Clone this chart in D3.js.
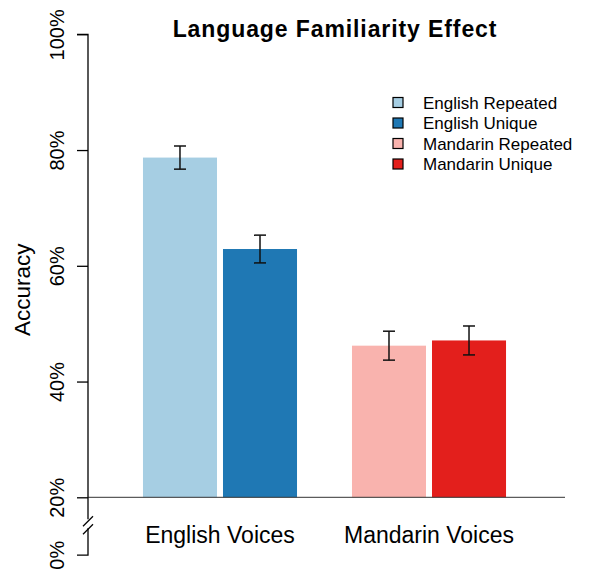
<!DOCTYPE html>
<html>
<head>
<meta charset="utf-8">
<script src="https://cdn.jsdelivr.net/npm/d3@7"></script>
<style>
  html, body { margin: 0; padding: 0; background: #fff; }
  svg { display: block; font-family: "Liberation Sans", Arial, Helvetica, sans-serif; }
</style>
</head>
<body>
<svg id="chart" width="589" height="569"></svg>
<script>
// Voice groups and conditions
const groups = ["English Voices", "Mandarin Voices"];
const conditions = ["Repeated", "Unique"];
const seriesLabels = ["English Repeated", "English Unique", "Mandarin Repeated", "Mandarin Unique"];
const seriesColors = ["#a6cee3", "#1f78b4", "#f9b3ae", "#e31f1c"];
// Mean accuracy (%) and standard error per series
const accuracy = [78.7, 62.9, 46.2, 47.1];
const stdErr = [2.0, 2.4, 2.5, 2.5];
const yTicks = [20, 40, 60, 80, 100];

const svg = d3.select("#chart");
const plotLeft = 88, plotRight = 565, plotTop = 34.3, plotBase = 497.3;

const y = d3.scaleLinear().domain([20, 100]).range([plotBase, plotTop]);
const x0 = d3.scaleBand().domain(groups).range([plotLeft, 561]).paddingInner(0.263).paddingOuter(0.263);
const x1 = d3.scaleBand().domain(conditions).range([0, x0.bandwidth()]).paddingInner(0.075);

const rows = accuracy.map((v, i) => ({
  group: groups[Math.floor(i / 2)],
  cond: conditions[i % 2],
  value: v,
  se: stdErr[i],
  color: seriesColors[i]
}));

// Bars
svg.append("g").selectAll("rect").data(rows).join("rect")
  .attr("x", d => x0(d.group) + x1(d.cond))
  .attr("width", x1.bandwidth())
  .attr("y", d => y(d.value))
  .attr("height", d => y(20) - y(d.value))
  .attr("fill", d => d.color);

// Error bars
const eb = svg.append("g").attr("stroke", "#111").attr("stroke-width", 1.5).attr("fill", "none");
rows.forEach(d => {
  const cx = x0(d.group) + x1(d.cond) + x1.bandwidth() / 2;
  const hi = y(d.value + d.se), lo = y(d.value - d.se);
  eb.append("line").attr("x1", cx).attr("x2", cx).attr("y1", hi).attr("y2", lo);
  eb.append("line").attr("x1", cx - 6).attr("x2", cx + 6).attr("y1", hi).attr("y2", hi);
  eb.append("line").attr("x1", cx - 6).attr("x2", cx + 6).attr("y1", lo).attr("y2", lo);
});

// Baseline
svg.append("line").attr("x1", plotLeft).attr("x2", plotRight)
  .attr("y1", y(20)).attr("y2", y(20))
  .attr("stroke", "#333").attr("stroke-width", 1);

// Y axis
const yAxis = d3.axisLeft(y).tickValues(yTicks).tickSize(11).tickFormat(d => d + "%");
const gy = svg.append("g").attr("transform", `translate(${plotLeft},0)`).call(yAxis);
gy.select(".domain").attr("d", `M-11,${plotTop}H0V${plotBase}`).attr("stroke", "#000").attr("stroke-width", 1.3);
gy.selectAll(".tick line").attr("stroke", "#000").attr("stroke-width", 1.3);
gy.selectAll(".tick text")
  .attr("x", null).attr("dy", null)
  .attr("transform", "translate(-24,0) rotate(-90)")
  .attr("text-anchor", "middle")
  .attr("font-size", 20).attr("font-family", "Liberation Sans, Arial, sans-serif")
  .attr("fill", "#000");

// Axis break down to the 0% tick
const zeroY = y(20) + (y(20) - y(30));
const brk = svg.append("g").attr("stroke", "#000").attr("stroke-width", 1.3).attr("fill", "none");
brk.append("path").attr("d", `M${plotLeft},${plotBase}V${plotBase + 22}`);
brk.append("path").attr("d", `M${plotLeft},${plotBase + 31}V${zeroY}H${plotLeft - 11}`);
brk.append("line").attr("x1", plotLeft - 5).attr("y1", plotBase + 29).attr("x2", plotLeft + 5).attr("y2", plotBase + 19);
brk.append("line").attr("x1", plotLeft - 5).attr("y1", plotBase + 37).attr("x2", plotLeft + 5).attr("y2", plotBase + 27);
svg.append("text")
  .attr("transform", `translate(${plotLeft - 24},${zeroY}) rotate(-90)`)
  .attr("text-anchor", "middle").attr("font-size", 20).text("0%");

// Y label
svg.append("text")
  .attr("transform", `translate(30,${(plotTop + plotBase) / 2 + 24}) rotate(-90)`)
  .attr("text-anchor", "middle").attr("font-size", 22.5).text("Accuracy");

// Group labels
svg.append("g").selectAll("text").data(groups).join("text")
  .attr("x", d => x0(d) + x0.bandwidth() / 2)
  .attr("y", 543)
  .attr("text-anchor", "middle").attr("font-size", 23)
  .text(d => d);

// Title
svg.append("text")
  .attr("x", 335).attr("y", 37)
  .attr("text-anchor", "middle").attr("font-size", 23).attr("font-weight", "bold")
  .attr("letter-spacing", 0.9)
  .text("Language Familiarity Effect");

// Legend
const lg = svg.append("g").attr("transform", "translate(393,102.5)");
const items = lg.selectAll("g").data(seriesLabels).join("g")
  .attr("transform", (d, i) => `translate(0,${i * 20.5})`);
items.append("rect").attr("x", 0).attr("y", -5).attr("width", 10).attr("height", 10)
  .attr("fill", (d, i) => seriesColors[i]).attr("stroke", "#000").attr("stroke-width", 1.2);
items.append("text").attr("x", 30).attr("y", 6).attr("font-size", 17).text(d => d);
</script>
</body>
</html>
